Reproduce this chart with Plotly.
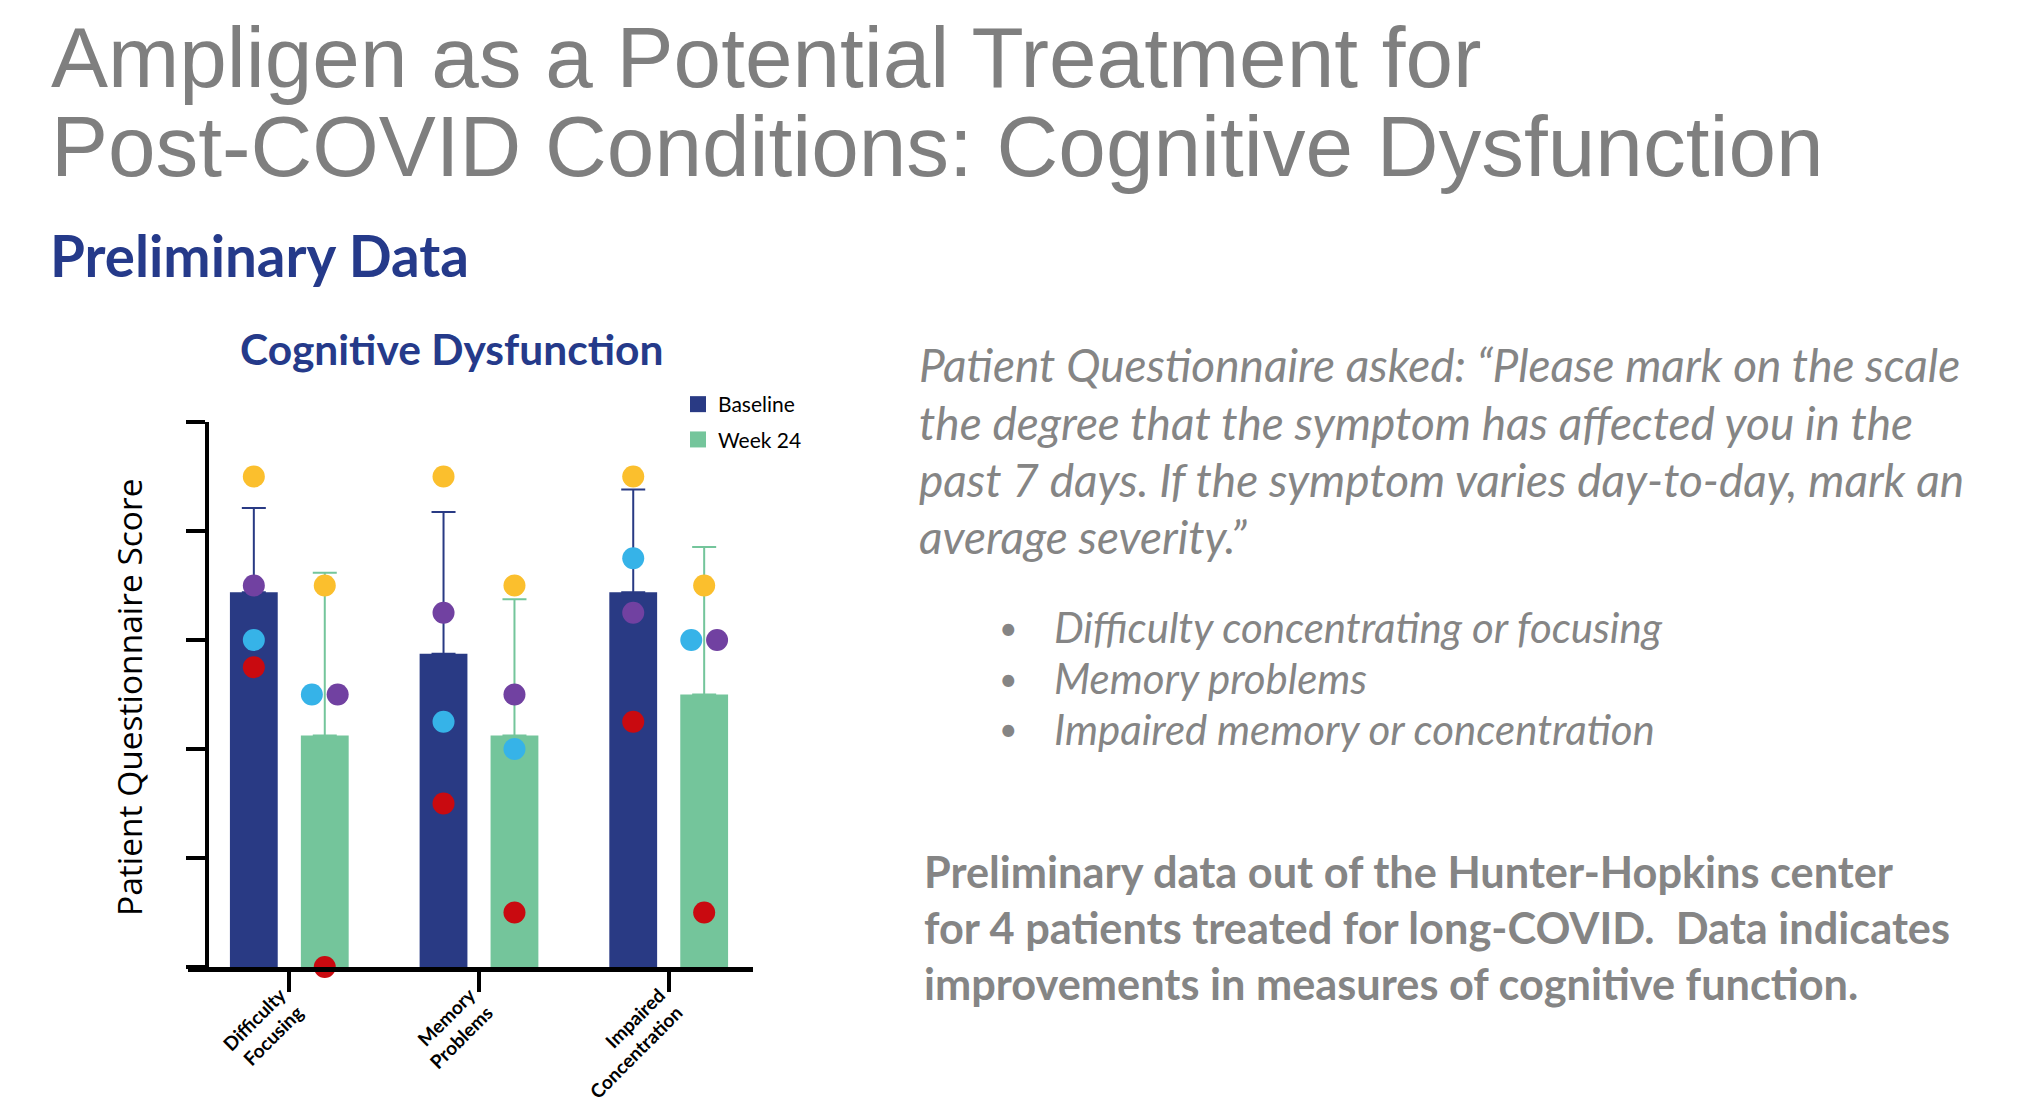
import numpy as np
import plotly.graph_objects as go

# Data (score per patient, 0-10 scale)
categories = ["Difficulty<br>Focusing", "Memory<br>Problems", "Impaired<br>Concentration"]
groups = ["Baseline", "Week 24"]

baseline_yellow = [9, 9, 9]
baseline_purple = [7, 6.5, 6.5]
baseline_cyan = [6, 4.5, 7.5]
baseline_red = [5.5, 3, 4.5]

week24_yellow = [7, 7, 7]
week24_purple = [5, 5, 6]
week24_cyan = [5, 4, 6]
week24_red = [0, 1, 1]

y_ticks = [0, 2, 4, 6, 8, 10]

NAVY = "#293a84"
GREEN = "#74c59b"
TITLE_GRAY = "#7f7f7f"
TEXT_GRAY = "#858585"
patient_colors = {"yellow": "#fbbf2d", "cyan": "#36b3e8", "purple": "#7141a1", "red": "#c90a10"}

baseline = {"yellow": baseline_yellow, "cyan": baseline_cyan, "purple": baseline_purple, "red": baseline_red}
week24 = {"yellow": week24_yellow, "cyan": week24_cyan, "purple": week24_purple, "red": week24_red}

# page is 2030x1116; the html body adds an 8px margin, so the figure is a bit smaller
W, H = 2030, 1116
OFF = 8
FW, FH = W - 2 * OFF, H - 2 * OFF


def px_x(x):
    return (x - OFF) / FW


def px_y(y):
    return 1 - (y - OFF) / FH


x_cat = np.arange(len(categories))
half = 0.187      # offset of each bar from the category centre
bar_w = 0.252
jit = 0.068       # horizontal spread of coinciding points

fig = go.Figure()


def stats(d):
    arr = np.array([d[k] for k in d], dtype=float)
    return arr.mean(axis=0), arr.std(axis=0, ddof=1)


for data, sign, color, name in [(baseline, -1, NAVY, groups[0]), (week24, 1, GREEN, groups[1])]:
    mean, sd = stats(data)
    fig.add_trace(go.Bar(
        x=x_cat + sign * half, y=mean, width=bar_w,
        marker=dict(color=color, line=dict(width=0)),
        error_y=dict(type="data", symmetric=False, array=sd, arrayminus=[0] * len(sd),
                     color=color, thickness=2, width=12),
        showlegend=False, hoverinfo="skip",
    ))
    # legend swatch
    fig.add_trace(go.Scatter(
        x=[None], y=[None], mode="markers", name=name, legendgroup=name,
        marker=dict(symbol="square", size=16, color=color),
    ))

# patient dots; coinciding values in one bar are spread left/right
for data, sign in [(baseline, -1), (week24, 1)]:
    xs = {k: [] for k in data}
    for i in range(len(categories)):
        vals = {k: data[k][i] for k in data}
        for k in data:
            same = [p for p in data if vals[p] == vals[k]]
            if len(same) > 1:
                off = (same.index(k) - (len(same) - 1) / 2) * 2 * jit
            else:
                off = 0
            xs[k].append(x_cat[i] + sign * half + off)
    for k in data:
        fig.add_trace(go.Scatter(
            x=xs[k], y=data[k], mode="markers", cliponaxis=False,
            marker=dict(size=22, color=patient_colors[k], line=dict(width=0)),
            showlegend=False, hoverinfo="skip",
        ))

x0_px, x1_px = 188, 753
y_top_px, y_bot_px = 422, 967
c0_px, step_px = 289.3, 189.7

fig.update_layout(
    width=FW, height=FH,
    margin=dict(l=0, r=0, t=0, b=0),
    paper_bgcolor="white", plot_bgcolor="white",
    barmode="overlay",
    xaxis=dict(
        domain=[px_x(x0_px), px_x(x1_px)],
        range=[(x0_px - c0_px) / step_px, (x1_px - c0_px) / step_px],
        tickvals=list(x_cat), ticktext=categories, tickangle=-45,
        tickfont=dict(family="Lato", size=19, color="black", weight="bold"),
        ticklabelstandoff=-15, ticklabelshift=-9,
        showline=True, linecolor="black", linewidth=4.5,
        ticks="outside", ticklen=20, tickwidth=4, tickcolor="black",
        showgrid=False, zeroline=False, automargin=False,
    ),
    yaxis=dict(
        domain=[px_y(y_bot_px), px_y(y_top_px)],
        range=[0, 10], tickvals=y_ticks, showticklabels=False,
        anchor="free", position=px_x(207),
        showline=True, linecolor="black", linewidth=4,
        ticks="outside", ticklen=19, tickwidth=4, tickcolor="black",
        showgrid=False, zeroline=False, automargin=False,
    ),
    legend=dict(
        x=px_x(678), y=px_y(384), xanchor="left", yanchor="top",
        font=dict(family="Lato", size=21, color="black"),
        bgcolor="rgba(0,0,0,0)", tracegroupgap=5, itemwidth=30,
    ),
)


def note(text, x, y, size, color, family, xanchor="left", weight="normal", style="normal", angle=0):
    fig.add_annotation(
        text=text, x=px_x(x), y=px_y(y), xref="paper", yref="paper",
        xanchor=xanchor, yanchor="middle", showarrow=False, textangle=angle, borderpad=0,
        font=dict(family=family, size=size, color=color, weight=weight, style=style),
    )


note("Ampligen as a Potential Treatment for", 50, 57, 85.5, TITLE_GRAY, "Liberation Sans")
note("Post-COVID Conditions: Cognitive Dysfunction", 50, 147, 85.5, TITLE_GRAY, "Liberation Sans")
note("Preliminary Data", 49, 255, 56.5, "#253a8a", "Lato", weight="bold")
note("Cognitive Dysfunction", 451, 348, 42.5, "#253a8a", "Lato", xanchor="center", weight="bold")
note("Patient Questionnaire Score", 129, 697, 33.5, "black", "Open Sans", xanchor="center", angle=-90)

para = [
    "Patient Questionnaire asked: \u201cPlease mark on the scale",
    "the degree that the symptom has affected you in the",
    "past 7 days. If the symptom varies day-to-day, mark an",
    "average severity.\u201d",
]
for i, line in enumerate(para):
    note(line, 918, 365 + i * 57, 46, TEXT_GRAY, "Lato", style="italic")

bullets = ["Difficulty concentrating or focusing", "Memory problems", "Impaired memory or concentration"]
for i, line in enumerate(bullets):
    note("\u2022", 998, 627 + i * 51, 32, TEXT_GRAY, "Lato")
    note(line, 1053, 627 + i * 51, 42, TEXT_GRAY, "Lato", style="italic")

summary = [
    "Preliminary data out of the Hunter-Hopkins center",
    "for 4 patients treated for long-COVID.  Data indicates",
    "improvements in measures of cognitive function.",
]
for i, line in enumerate(summary):
    note(line, 923, 871 + i * 56, 43.3, TEXT_GRAY, "Lato", weight="bold")

fig.write_html("out.html")
